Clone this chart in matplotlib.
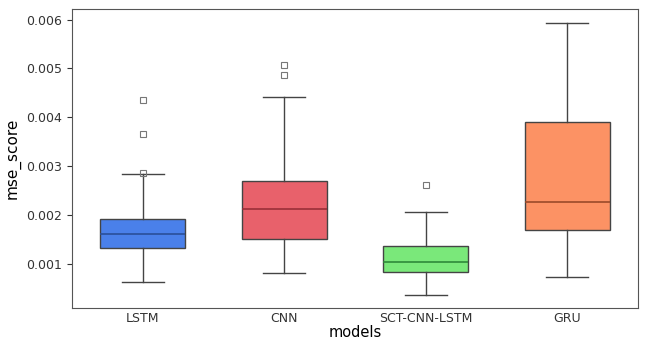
import matplotlib
matplotlib.use("Agg")
import matplotlib.pyplot as plt

models = ["LSTM", "CNN", "SCT-CNN-LSTM", "GRU"]
whisker_low = [0.00063, 0.00082, 0.00036, 0.00073]
q1 = [0.00133, 0.00151, 0.00084, 0.00170]
median = [0.00161, 0.00213, 0.00104, 0.00227]
q3 = [0.00192, 0.00270, 0.00137, 0.00391]
whisker_high = [0.00284, 0.00442, 0.00207, 0.00594]
fliers = [[0.00436, 0.00366, 0.00286], [0.00508, 0.00487], [0.00262], []]
colors = ["#4a80ea", "#e8616b", "#7ae87a", "#fc9264"]
median_colors = ["#2a4f9a", "#9a2f38", "#2f8a3a", "#9a4a2a"]

stats = []
for i, m in enumerate(models):
    stats.append({"label": m, "whislo": whisker_low[i], "q1": q1[i], "med": median[i],
                  "q3": q3[i], "whishi": whisker_high[i], "fliers": fliers[i]})

fig = plt.figure(figsize=(6.49, 3.41), dpi=100)
ax = fig.add_axes([0.111, 0.097, 0.872, 0.877])

bp = ax.bxp(stats, positions=range(len(models)), widths=0.6, patch_artist=True,
            boxprops=dict(edgecolor="#444444", linewidth=1.0),
            whiskerprops=dict(color="#444444", linewidth=1.0),
            capprops=dict(color="#444444", linewidth=1.0),
            flierprops=dict(marker="s", markersize=4, markerfacecolor="none",
                            markeredgecolor="#777777", markeredgewidth=0.8))
for patch, c in zip(bp["boxes"], colors):
    patch.set_facecolor(c)
for line, c in zip(bp["medians"], median_colors):
    line.set_color(c)
    line.set_linewidth(1.2)

ax.set_xlim(-0.5, len(models) - 0.5)
ax.set_ylim(0.0001, 0.00622)
ax.set_yticks([0.001, 0.002, 0.003, 0.004, 0.005, 0.006])
ax.set_yticklabels(["0.001", "0.002", "0.003", "0.004", "0.005", "0.006"])
ax.set_xticks(range(len(models)))
ax.set_xticklabels(models)
ax.tick_params(labelsize=9, colors="#333333")
ax.tick_params(axis="x", length=0, pad=3)
for s in ax.spines.values():
    s.set_color("#555555")
ax.set_xlabel("models", fontsize=10.5, labelpad=0)
ax.set_ylabel("mse_score", fontsize=11)

fig.savefig("out.png", dpi=100)
